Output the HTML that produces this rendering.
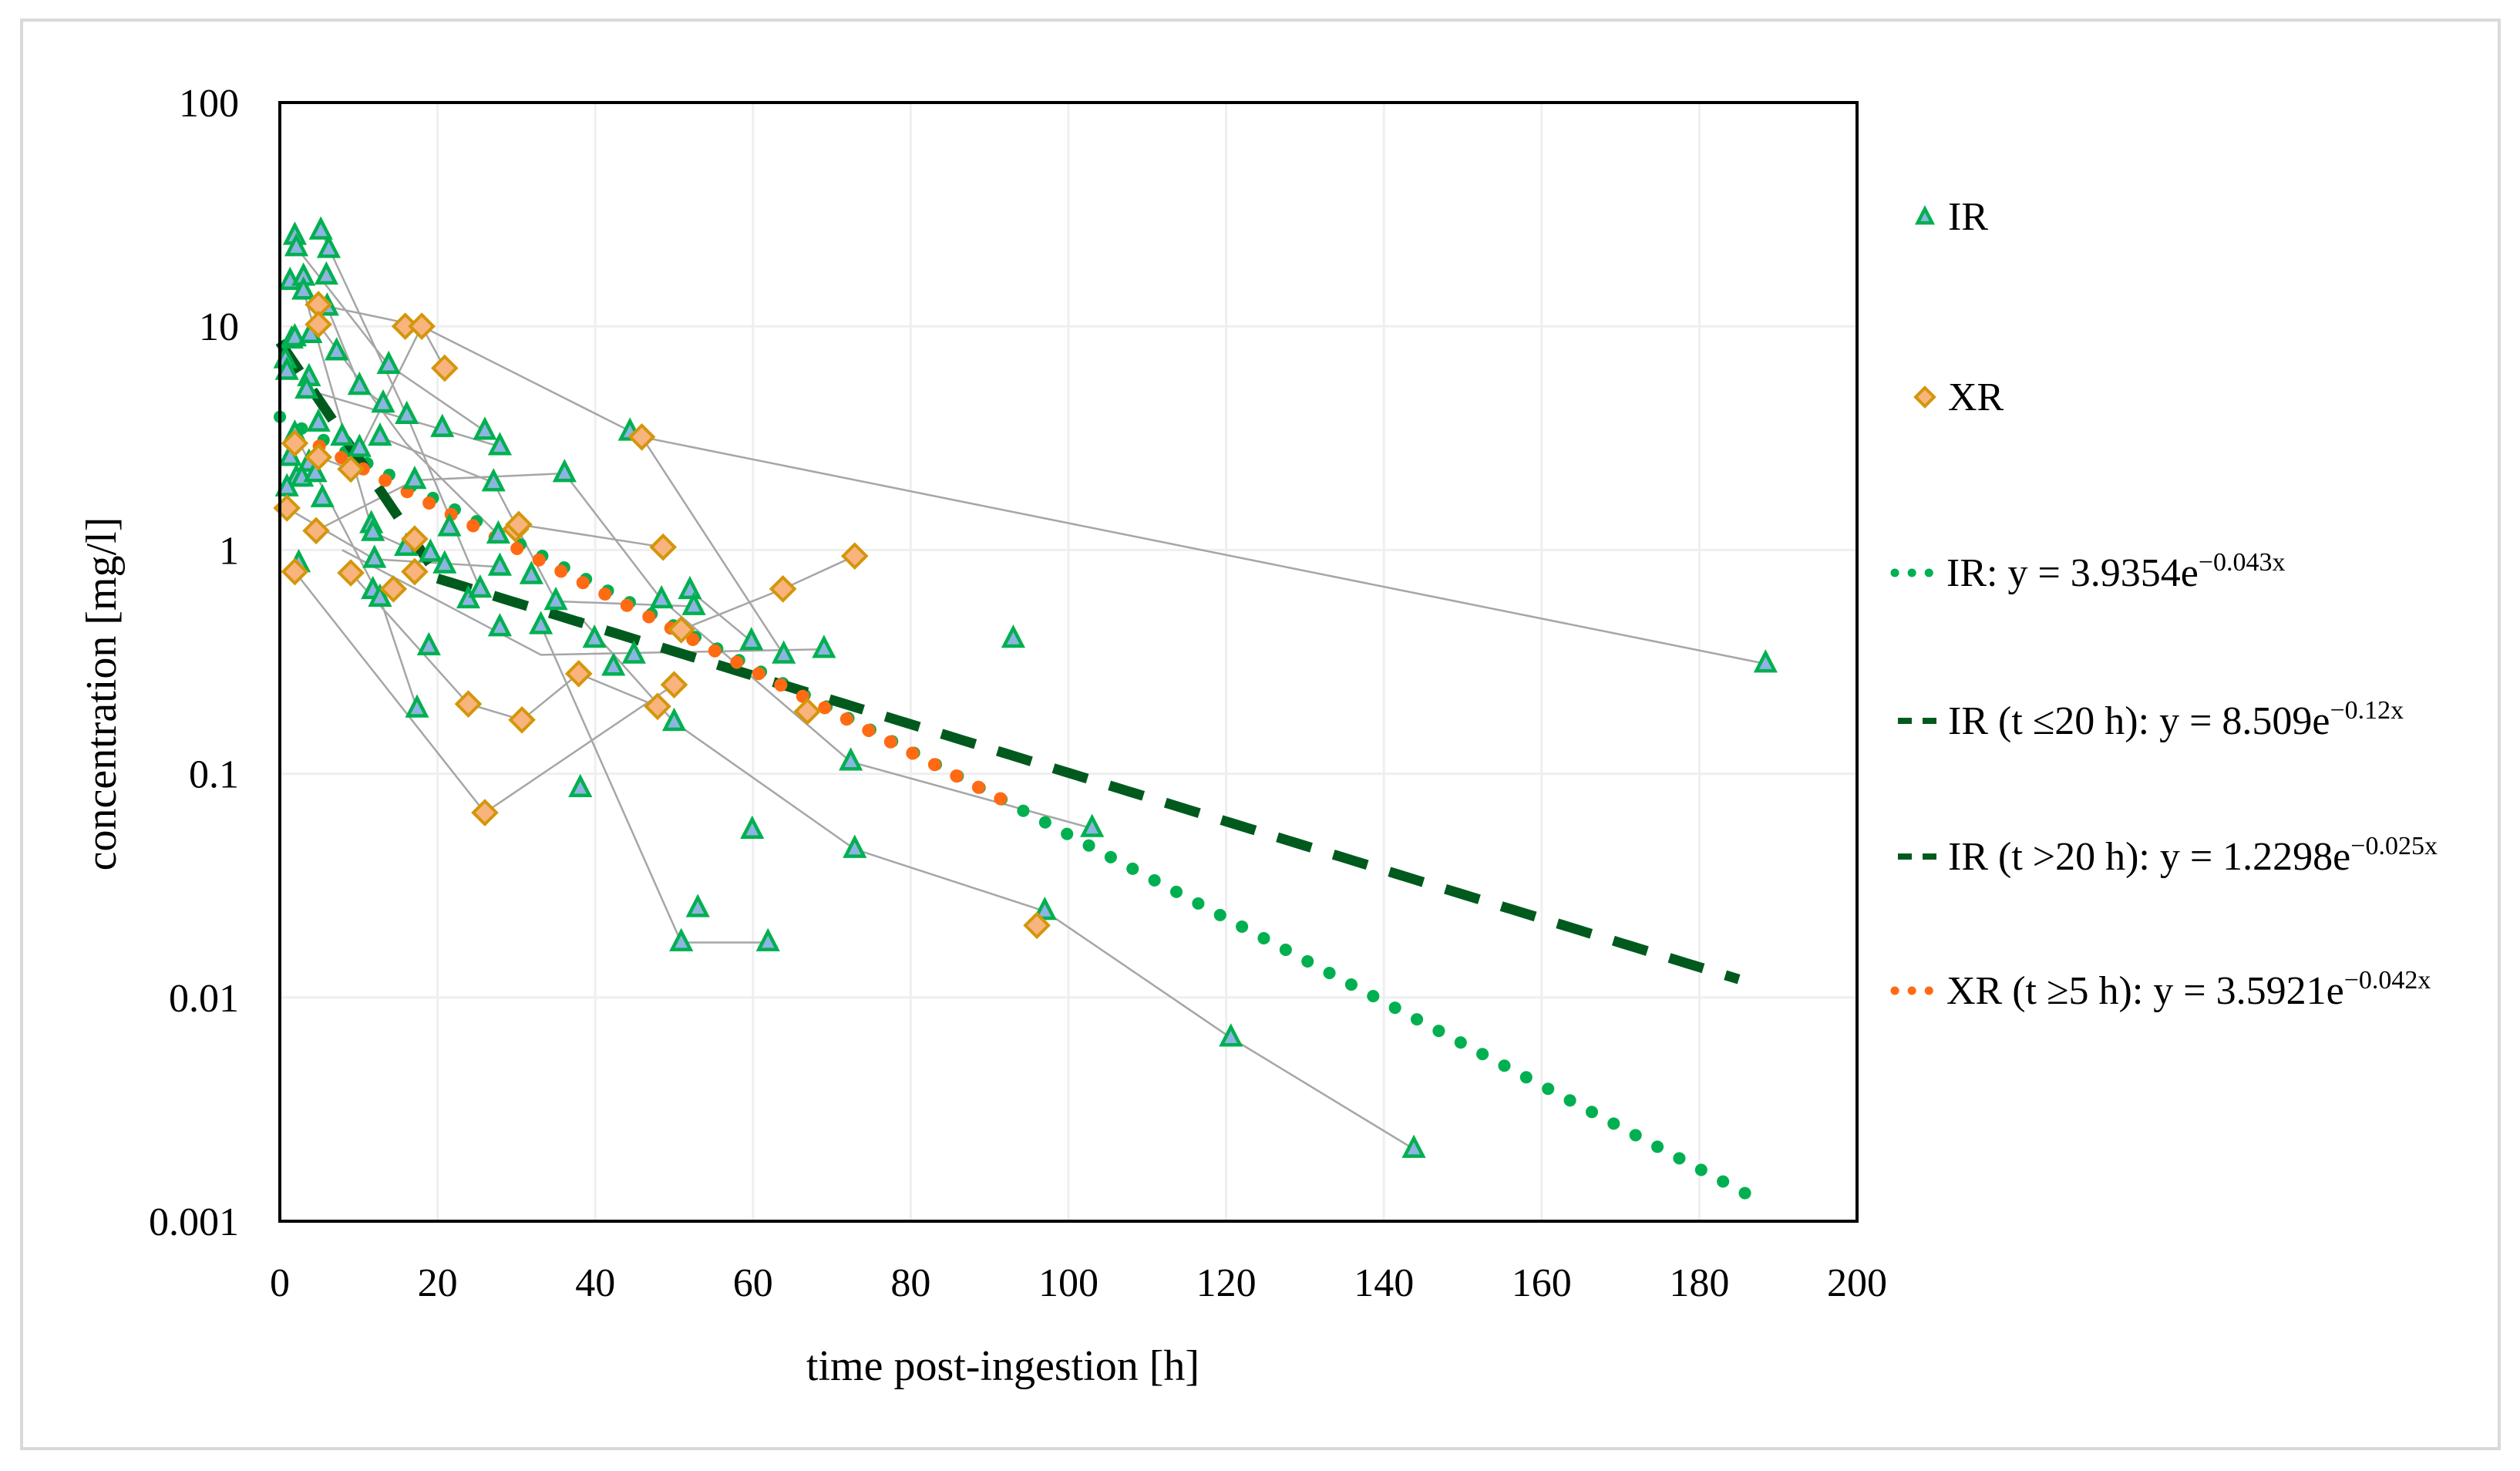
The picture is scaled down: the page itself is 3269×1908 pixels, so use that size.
<!DOCTYPE html>
<html><head><meta charset="utf-8"><style>
html,body{margin:0;padding:0;background:#fff}
svg{display:block}
text{font-family:"Liberation Serif",serif;fill:#000}
</style></head><body>
<svg id="chart" width="3269" height="1908" viewBox="0 0 3269 1908" xmlns="http://www.w3.org/2000/svg">
<rect x="28" y="26" width="3214" height="1853" fill="#fff" stroke="#d9d9d9" stroke-width="4"/>
<g id="grid"></g>
<g id="lines"></g>
<g id="trends"></g>
<g id="markers"></g>
<rect x="363" y="133" width="2046" height="1451" fill="none" stroke="#000" stroke-width="4"/>
<g id="axes"></g>
<text transform="translate(150,900) rotate(-90)" text-anchor="middle" font-size="56">concentration [mg/l]</text>
<text x="1301" y="1790" text-anchor="middle" font-size="56">time post-ingestion [h]</text>
<g id="legend"></g>
</svg>
<script>
const xTicks=[0,20,40,60,80,100,120,140,160,180,200];
const yTicks=[0.001,0.01,0.1,1,10,100];
const yTickLabels=["0.001","0.01","0.1","1","10","100"];
const irX=[1.9,2.1,5.2,6.2,1.3,3.0,3.0,5.9,6.0,1.5,1.9,3.9,7.2,13.8,0.7,0.9,3.7,3.4,10.1,13.1,16.1,20.6,26.0,27.9,4.9,1.9,7.9,12.7,10.1,1.3,3.7,2.1,2.8,4.5,0.9,5.4,17.1,27.1,36.1,11.6,11.8,21.5,27.7,16.0,19.1,2.4,12.0,20.9,27.9,31.9,11.8,12.7,23.9,25.4,35.0,48.4,52.0,52.5,33.1,27.9,39.9,59.8,63.9,69.0,44.9,42.3,93.0,18.9,17.4,50.0,72.4,38.1,59.9,72.9,103,53.0,50.9,61.9,97.0,44.4,188.4,120.6,143.8];
const irY=[25.3,22.5,26.7,22.1,15.9,16.6,14.4,16.8,12.2,8.7,8.9,9.2,7.7,6.7,7.1,6.3,5.9,5.2,5.4,4.5,4.0,3.5,3.4,2.9,3.7,3.3,3.2,3.2,2.85,2.6,2.45,2.1,2.1,2.2,1.9,1.7,2.05,2.0,2.2,1.3,1.2,1.26,1.17,1.03,0.97,0.87,0.91,0.86,0.84,0.77,0.66,0.61,0.60,0.67,0.59,0.60,0.66,0.56,0.46,0.45,0.40,0.39,0.34,0.36,0.34,0.30,0.40,0.37,0.195,0.17,0.113,0.086,0.056,0.046,0.057,0.025,0.0176,0.0176,0.0243,3.37,0.31,0.0066,0.0021];
const xrX=[4.9,4.9,15.9,18.0,20.9,45.9,1.9,4.9,9.0,0.9,4.6,29.9,30.3,48.6,72.9,17.1,1.9,9.0,17.1,14.4,63.8,50.9,37.9,50.0,47.9,23.9,30.7,66.9,26.0,96.0];
const xrY=[12.5,10.2,10.0,10.0,6.5,3.2,3.0,2.6,2.3,1.54,1.22,1.24,1.3,1.03,0.94,1.12,0.80,0.79,0.80,0.67,0.67,0.44,0.28,0.25,0.20,0.205,0.174,0.19,0.067,0.021];
const profiles=[
 [[4.9,12.5],[18.0,10.0],[45.9,3.2],[188.4,0.31]],
 [[18.0,10.0],[20.9,6.5]],
 [[45.9,3.2],[63.9,0.34]],
 [[1.9,0.8],[26.0,0.067],[50.0,0.25]],
 [[50.9,0.44],[63.8,0.67],[72.9,0.94]],
 [[9.0,0.79],[23.9,0.205],[30.7,0.174],[37.9,0.28],[47.9,0.20]],
 [[33.1,0.46],[50.9,0.0176],[61.9,0.0176]],
 [[17.1,2.05],[36.1,2.2],[48.4,0.60],[72.4,0.113],[103,0.057]],
 [[38.1,0.5],[50.0,0.17],[72.9,0.046],[97.0,0.0243],[120.6,0.0066],[143.8,0.0021]],
 [[4.9,10.2],[16.0,3.0],[27.7,1.17]],
 [[3.4,5.2],[27.9,2.9]],
 [[30.3,1.3],[48.6,1.03]],
 [[7.9,1.0],[33.1,0.34],[69.0,0.36]],
 [[0.9,1.54],[12.0,0.91],[27.9,0.84]],
 [[3.0,14.4],[11.8,1.2],[20.9,0.86]],
 [[1.9,3.3],[12.7,0.61],[17.4,0.195]],
 [[6.0,12.2],[10.1,5.4],[13.1,4.5]],
 [[5.2,26.7],[16.1,4.0],[25.4,0.67]],
 [[2.1,22.5],[13.8,6.7],[26.0,3.4]],
 [[4.6,1.22],[17.1,2.05]],
 [[18.0,10.0],[9.0,2.3],[4.9,2.6]],
 [[12.7,3.2],[27.1,2.0],[35.0,0.59],[52.5,0.56]],
 [[52.0,0.66],[59.8,0.39]]
];
const fitIR={a:3.9354,k:0.043,from:0,to:188};
const fitIR20={a:8.509,k:0.12,from:0,to:19};
const fitIRgt20={a:1.2298,k:0.025,from:20,to:185};
const fitXR={a:3.5921,k:0.042,from:5,to:94};

const X0=363,X1=2409,YT=133,YB=1584;
const sx=v=>X0+(v-0)/(200)*(X1-X0);
const sy=v=>YB-(Math.log10(v)+3)/5*(YB-YT);
const NS="http://www.w3.org/2000/svg";
function mk(tag,attrs,parent){const e=document.createElementNS(NS,tag);for(const k in attrs)e.setAttribute(k,attrs[k]);parent.appendChild(e);return e;}
const grid=document.getElementById('grid'),axes=document.getElementById('axes');
xTicks.forEach((t,i)=>{
 if(t>0&&t<200){const l=mk('line',{x1:sx(t),x2:sx(t),y1:YT,y2:YB,stroke:'#efefef','stroke-width':3},grid);
 
 }
 const tx=mk('text',{x:sx(t),y:1681,'text-anchor':'middle','font-size':52},axes);tx.textContent=t;
 
 
});
yTicks.forEach((t,i)=>{
 if(i>0&&i<yTicks.length-1){const l=mk('line',{x1:X0,x2:X1,y1:sy(t),y2:sy(t),stroke:'#efefef','stroke-width':3},grid);
 
 }
 const tx=mk('text',{x:310,y:sy(t)+18,'text-anchor':'end','font-size':52},axes);tx.textContent=yTickLabels[i];
 
 
});
const lines=document.getElementById('lines');
profiles.forEach(p=>{
 const pl=mk('polyline',{points:p.map(q=>sx(q[0])+','+sy(q[1])).join(' '),fill:'none',stroke:'#a6a6a6','stroke-width':2.5},lines);
 
 
});
const trends=document.getElementById('trends');
function fitPath(f){let d='';for(let i=0;i<=200;i++){const x=f.from+(f.to-f.from)*i/200;d+=(i?'L':'M')+sx(x).toFixed(1)+','+sy(f.a*Math.exp(-f.k*x)).toFixed(1);}return d;}
let p;
p=mk('path',{d:fitPath(fitIR),fill:'none',stroke:'#00b050','stroke-width':16,'stroke-linecap':'round','stroke-dasharray':'0.1 32'},trends);


p=mk('path',{d:fitPath(fitIRgt20),fill:'none',stroke:'#005a1e','stroke-width':13,'stroke-dasharray':'46 30'},trends);


p=mk('path',{d:fitPath(fitIR20),fill:'none',stroke:'#005a1e','stroke-width':13,'stroke-dasharray':'46 30'},trends);


p=mk('path',{d:fitPath(fitXR),fill:'none',stroke:'#ff6a13','stroke-width':17,'stroke-linecap':'round','stroke-dasharray':'0.1 32'},trends);


const markers=document.getElementById('markers');
function tri(cx,cy,s,parent){return mk('polygon',{points:`${cx},${cy-s} ${cx-s*0.85},${cy+s*0.65} ${cx+s*0.85},${cy+s*0.65}`,fill:'#8db4e2',stroke:'#00b050','stroke-width':4.5},parent);}
function dia(cx,cy,s,parent){return mk('polygon',{points:`${cx},${cy-s} ${cx+s},${cy} ${cx},${cy+s} ${cx-s},${cy}`,fill:'#f8b47c',stroke:'#d4960a','stroke-width':4},parent);}
irX.forEach((x,i)=>{const t=tri(sx(x),sy(irY[i]),14,markers);
 
 });
xrX.forEach((x,i)=>{const d=dia(sx(x),sy(xrY[i]),15,markers);
 
 });
const lg=document.getElementById('legend');
function ltext(x,y,html,name){const t=mk('text',{x:x,y:y,'font-size':52},lg);t.innerHTML=html;return t;}
let m=tri(2497,282,11,lg);
ltext(2527,298,'IR','legend-ir');
m=dia(2497,515,12,lg);
ltext(2527,532,'XR','legend-xr');
m=mk('line',{x1:2458,x2:2504,y1:743,y2:743,stroke:'#00b050','stroke-width':11,'stroke-linecap':'round','stroke-dasharray':'0.1 22'},lg);
ltext(2525,760,'IR: y = 3.9354e<tspan font-size="34" dy="-20">−0.043x</tspan>','legend-ir-fit');
m=mk('line',{x1:2462,x2:2514,y1:935,y2:935,stroke:'#005a1e','stroke-width':8,'stroke-dasharray':'18 14'},lg);
ltext(2527,952,'IR (t ≤20 h): y = 8.509e<tspan font-size="34" dy="-20">−0.12x</tspan>','legend-ir-early-fit');
m=mk('line',{x1:2462,x2:2514,y1:1111,y2:1111,stroke:'#005a1e','stroke-width':8,'stroke-dasharray':'18 14'},lg);
ltext(2527,1128,'IR (t &gt;20 h): y = 1.2298e<tspan font-size="34" dy="-20">−0.025x</tspan>','legend-ir-late-fit');
m=mk('line',{x1:2458,x2:2504,y1:1285,y2:1285,stroke:'#ff6a13','stroke-width':11,'stroke-linecap':'round','stroke-dasharray':'0.1 22'},lg);
ltext(2525,1302,'XR (t ≥5 h): y = 3.5921e<tspan font-size="34" dy="-20">−0.042x</tspan>','legend-xr-fit');
</script>
</body></html>
